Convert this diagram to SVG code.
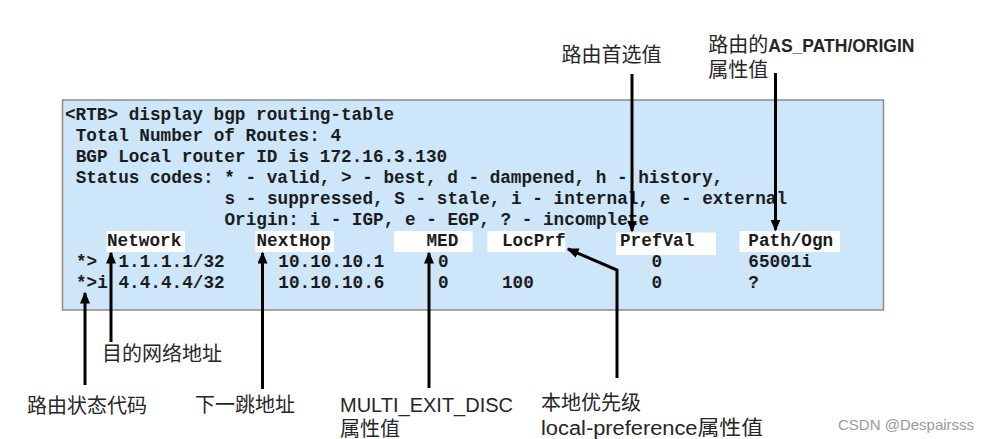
<svg xmlns="http://www.w3.org/2000/svg" width="992" height="439" viewBox="0 0 992 439">
<defs>
<style>
.mono{font-family:"Liberation Mono","Courier New",monospace;font-size:17.7px;font-weight:bold;fill:#1c1c1c;white-space:pre}
.lbl{font-family:"Liberation Sans","Noto Sans CJK SC",sans-serif;font-size:20px;fill:#262626}
.hl{fill:#ffffff}
.conn{fill:none;stroke:#000;stroke-width:3;marker-end:url(#ah)}
.wm{font-family:"Liberation Sans",sans-serif;font-size:15px;fill:#9a9a9a}
</style>
<marker id="ah" viewBox="0 0 12 10" refX="10.5" refY="5" markerWidth="12" markerHeight="10" markerUnits="userSpaceOnUse" orient="auto">
<path d="M0,0 L12,5 L0,10 z" fill="#000"/>
</marker>
</defs>
<rect width="992" height="439" fill="#ffffff"/>

<g id="terminal">
<rect x="62.5" y="100" width="821" height="210" fill="#cde6fa" stroke="#8a8a8a" stroke-width="1.5"/>
<text class="mono" x="65" y="120">&lt;RTB&gt; display bgp routing-table</text>
<text class="mono" x="75.7" y="141">Total Number of Routes: 4</text>
<text class="mono" x="75.7" y="162">BGP Local router ID is 172.16.3.130</text>
<text class="mono" x="75.7" y="183">Status codes: * - valid, &gt; - best, d - dampened, h - history,</text>
<text class="mono" x="224.5" y="204">s - suppressed, S - stale, i - internal, e - external</text>
<text class="mono" x="224.5" y="225">Origin: i - IGP, e - EGP, ? - incomplete</text>
<rect class="hl" x="106.5" y="231" width="78.5" height="21"/>
<rect class="hl" x="255.5" y="231" width="78.5" height="21"/>
<rect class="hl" x="394" y="231" width="78.5" height="21"/>
<rect class="hl" x="487.5" y="231" width="78" height="21"/>
<rect class="hl" x="616" y="232.5" width="100" height="22.5"/>
<rect class="hl" x="739.5" y="231" width="100.5" height="21"/>
<text class="mono" x="107" y="246">Network</text>
<text class="mono" x="256.5" y="246">NextHop</text>
<text class="mono" x="426.5" y="246">MED</text>
<text class="mono" x="502" y="246">LocPrf</text>
<text class="mono" x="620" y="246">PrefVal</text>
<text class="mono" x="748.3" y="246">Path/Ogn</text>
<text class="mono" x="76" y="267">*&gt;</text>
<text class="mono" x="118.5" y="267">1.1.1.1/32</text>
<text class="mono" x="278.3" y="267">10.10.10.1</text>
<text class="mono" x="438" y="267">0</text>
<text class="mono" x="651.5" y="267">0</text>
<text class="mono" x="748.3" y="267">65001i</text>
<text class="mono" x="76" y="288">*&gt;i</text>
<text class="mono" x="118.5" y="288">4.4.4.4/32</text>
<text class="mono" x="278.3" y="288">10.10.10.6</text>
<text class="mono" x="438" y="288">0</text>
<text class="mono" x="502" y="288">100</text>
<text class="mono" x="651.5" y="288">0</text>
<text class="mono" x="748.3" y="288">?</text>
</g>

<g id="connectors">
<path class="conn" d="M85,385 L85,293"/>
<path class="conn" d="M111,342 L111,253"/>
<path class="conn" d="M262.5,389 L262.5,253"/>
<path class="conn" d="M429,388 L429,253"/>
<path class="conn" d="M617,378 L617,270 L568,249"/>
<path class="conn" d="M632,74 L632,231"/>
<path class="conn" d="M775.5,73 L775.5,230"/>
</g>

<g id="label-status"><text class="lbl" x="27" y="413">路由状态代码</text></g>
<g id="label-network"><text class="lbl" x="102" y="361">目的网络地址</text></g>
<g id="label-nexthop"><text class="lbl" x="195" y="412">下一跳地址</text></g>
<g id="label-med">
<text class="lbl" x="340" y="411.5">MULTI_EXIT_DISC</text>
<text class="lbl" x="340" y="436">属性值</text>
</g>
<g id="label-locprf">
<text class="lbl" x="541" y="410">本地优先级</text>
<text class="lbl" x="541" y="434.5" textLength="222" lengthAdjust="spacingAndGlyphs">local-preference属性值</text>
</g>
<g id="label-prefval"><text class="lbl" x="561.5" y="61.5">路由首选值</text></g>
<g id="label-path">
<text class="lbl" x="708.3" y="51.5" font-size="19">路由的<tspan font-weight="bold" font-size="17.5">AS_PATH/ORIGIN</tspan></text>
<text class="lbl" x="708.3" y="77" font-size="19">属性值</text>
</g>

<text class="wm" x="838" y="430">CSDN @Despairsss</text>
</svg>
